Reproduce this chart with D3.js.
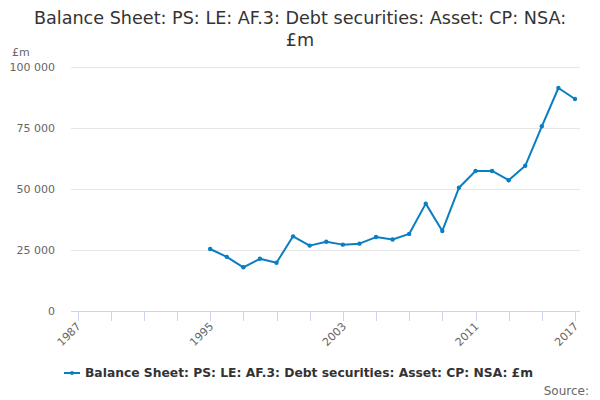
<!DOCTYPE html>
<html><head><meta charset="utf-8">
<script src="https://cdn.jsdelivr.net/npm/d3@7"></script>
<style>body{margin:0;background:#fff}svg{display:block;font-family:"DejaVu Sans",sans-serif}</style>
</head><body><svg id="c" width="600" height="400"></svg>
<script>
const years = [1995,1996,1997,1998,1999,2000,2001,2002,2003,2004,2005,2006,2007,2008,2009,2010,2011,2012,2013,2014,2015,2016,2017];
const values = [25400,22200,17900,21400,19800,30600,26800,28400,27200,27600,30300,29300,31600,44000,32800,50500,57400,57400,53600,59500,75700,91400,86900];
const yTicks = [0,25000,50000,75000,100000];
const xTicks = [1987,1989,1991,1993,1995,1997,1999,2001,2003,2005,2007,2009,2011,2013,2015,2017];
const xLabels = [1987,1995,2003,2011,2017];
const titleLines = ["Balance Sheet: PS: LE: AF.3: Debt securities: Asset: CP: NSA:", "£m"];
const seriesName = "Balance Sheet: PS: LE: AF.3: Debt securities: Asset: CP: NSA: £m";

const svg = d3.select("#c");
const L = 71, R = 580, T = 67, B = 311;
const x = d3.scaleLinear().domain([1987,2017]).range([77.5,575]);
const y = d3.scaleLinear().domain([0,100000]).range([B,T]);
const fmt = v => d3.format(",")(v).replace(/,/g," ");

svg.append("g").selectAll("text").data(titleLines).join("text")
  .attr("x",300).attr("y",(d,i)=>24+i*22).attr("text-anchor","middle")
  .attr("fill","#333").attr("font-size",17.6).text(d=>d);

svg.append("text").attr("x",12).attr("y",56).attr("fill","#666").attr("font-size",11).text("£m");

// grid
svg.append("g").selectAll("line").data(yTicks.filter(d=>d>0)).join("line")
  .attr("x1",L).attr("x2",R).attr("y1",d=>y(d)+0.5).attr("y2",d=>y(d)+0.5)
  .attr("stroke","#e6e6e6");
svg.append("g").selectAll("text").data(yTicks).join("text")
  .attr("x",55).attr("y",d=>y(d)+4).attr("text-anchor","end")
  .attr("fill","#666").attr("font-size",11).text(fmt);

// x axis
svg.append("line").attr("x1",L).attr("x2",R).attr("y1",B+0.5).attr("y2",B+0.5).attr("stroke","#ccd6eb");
svg.append("g").selectAll("line").data(xTicks).join("line")
  .attr("x1",d=>Math.round(x(d))+0.5).attr("x2",d=>Math.round(x(d))+0.5)
  .attr("y1",B).attr("y2",B+10).attr("stroke","#ccd6eb");
svg.append("g").selectAll("text").data(xLabels).join("text")
  .attr("transform",d=>`translate(${x(d)+4},${B+16}) rotate(-45)`)
  .attr("text-anchor","end").attr("fill","#666").attr("font-size",11).text(d=>d);

// line
const pts = years.map((d,i)=>[d,values[i]]);
svg.append("path").datum(pts)
  .attr("d",d3.line().x(d=>x(d[0])).y(d=>y(d[1])))
  .attr("fill","none").attr("stroke","#0b7ec1").attr("stroke-width",2).attr("stroke-linejoin","round");
svg.append("g").selectAll("circle").data(pts).join("circle")
  .attr("cx",d=>x(d[0])).attr("cy",d=>y(d[1])).attr("r",2.2).attr("fill","#0b7ec1");

// legend
svg.append("line").attr("x1",64).attr("x2",80).attr("y1",373).attr("y2",373).attr("stroke","#0b7ec1").attr("stroke-width",2);
svg.append("circle").attr("cx",72).attr("cy",373).attr("r",2).attr("fill","#0b7ec1");
svg.append("text").attr("x",85).attr("y",377).attr("fill","#333").attr("font-size",12.3).attr("font-weight","bold").text(seriesName);
svg.append("text").attr("x",589).attr("y",395).attr("text-anchor","end").attr("fill","#666").attr("font-size",12).text("Source:");
</script></body></html>
